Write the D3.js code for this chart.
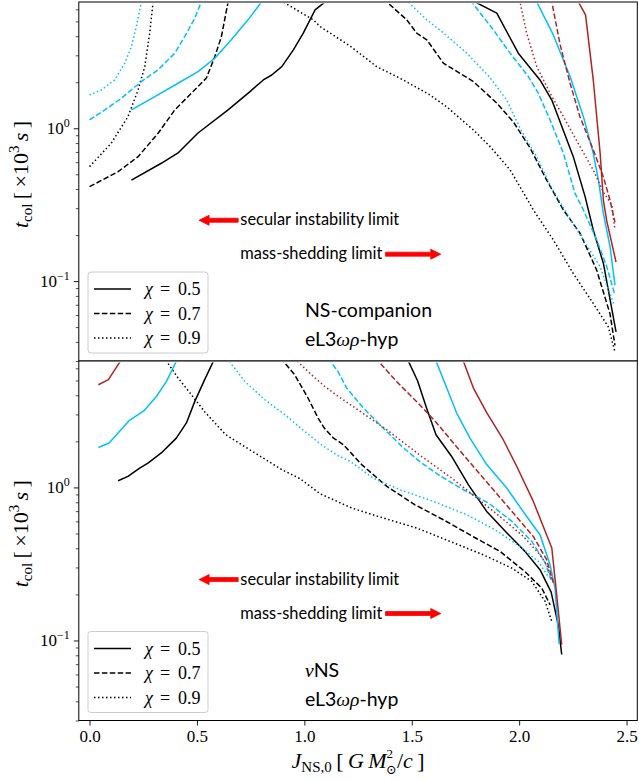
<!DOCTYPE html>
<html>
<head>
<meta charset="utf-8">
<script src="https://cdn.jsdelivr.net/npm/d3@7"></script>
<style>
  body { margin: 0; background: #fff; }
  svg { display: block; }
</style>
</head>
<body>
<svg id="chart" width="639" height="781"></svg>
<script>
// Collapse time t_col (units of 10^3 s) vs initial NS angular momentum J_NS,0.
// Each series is a list of [J, t] pairs; 6.7 marks runs that hit the time cap.

// ---- NS-companion panel ----
const topBlackSolid = [[0.195,0.458],[0.334,0.590],[0.412,0.689],[0.505,0.931],[0.645,1.318],[0.747,1.737],[0.809,2.07],[0.848,2.23],[0.895,2.53],[0.949,3.26],[0.995,4.19],[1.050,5.95],[1.096,6.7],[1.795,6.7],[1.896,5.66],[1.996,3.10],[2.097,2.07],[2.152,1.53],[2.252,0.652],[2.307,0.357],[2.345,0.216],[2.392,0.131],[2.451,0.0466]];
const topBlackDashed = [[0.0,0.415],[0.133,0.520],[0.226,0.652],[0.319,0.927],[0.397,1.318],[0.474,1.695],[0.544,2.13],[0.583,2.94],[0.614,3.98],[0.645,6.7],[1.384,6.7],[1.477,5.12],[1.523,4.19],[1.570,3.79],[1.647,2.67],[1.787,2.02],[1.896,1.46],[1.973,1.10],[2.051,0.743],[2.128,0.458],[2.206,0.292],[2.284,0.205],[2.361,0.118],[2.423,0.061],[2.446,0.038]];
const topBlackDotted = [[0.0,0.561],[0.101,0.798],[0.179,1.191],[0.226,1.782],[0.257,2.53],[0.280,4.19],[0.296,6.7],[0.901,6.7],[1.042,5.12],[1.073,4.63],[1.213,3.45],[1.337,2.53],[1.461,2.07],[1.585,1.65],[1.663,1.38],[1.787,0.975],[1.865,0.758],[1.958,0.534],[2.035,0.348],[2.066,0.292],[2.159,0.186],[2.252,0.112],[2.345,0.0714],[2.415,0.0502],[2.446,0.0344]];
const topCyanSolid = [[0.195,1.318],[0.304,1.611],[0.412,1.97],[0.505,2.35],[0.583,2.87],[0.660,3.79],[0.738,5.12],[0.800,6.7],[2.082,6.7],[2.159,4.08],[2.237,2.18],[2.299,1.191],[2.345,0.686],[2.369,0.458],[2.392,0.277],[2.423,0.168],[2.446,0.094]];
const topCyanDashed = [[0.0,1.133],[0.071,1.318],[0.148,1.571],[0.241,2.02],[0.319,2.41],[0.397,3.10],[0.443,3.98],[0.490,5.25],[0.520,6.7],[1.779,6.7],[1.880,4.40],[1.958,3.10],[2.043,2.18],[2.089,1.695],[2.144,1.133],[2.206,0.686],[2.260,0.375],[2.299,0.292],[2.361,0.186],[2.408,0.124],[2.446,0.081]];
const topCyanDotted = [[0.0,1.65],[0.055,1.78],[0.117,2.07],[0.164,2.67],[0.195,3.42],[0.218,4.63],[0.241,6.7],[1.483,6.7],[1.570,5.12],[1.647,4.21],[1.756,3.10],[1.865,2.14],[1.942,1.53],[2.004,1.00],[2.082,0.649],[2.144,0.425],[2.222,0.277],[2.299,0.186],[2.377,0.124],[2.439,0.0714]];
const topRedSolid = [[0.195,6.7],[2.276,6.7],[2.309,5.52],[2.345,2.07],[2.377,0.686],[2.392,0.339],[2.408,0.247],[2.451,0.133]];
const topRedDashed = [[0.0,6.7],[2.152,6.7],[2.191,3.51],[2.237,1.97],[2.283,1.19],[2.345,0.722],[2.392,0.480],[2.423,0.339],[2.446,0.243]];
const topRedDotted = [[0.0,6.7],[2.004,6.7],[2.035,4.19],[2.082,2.53],[2.144,1.695],[2.206,1.19],[2.283,0.758],[2.345,0.533],[2.392,0.383],[2.431,0.315],[2.446,0.216]];

// ---- νNS panel ----
const botBlackSolid = [[0.133,1.106],[0.179,1.18],[0.235,1.34],[0.272,1.443],[0.334,1.68],[0.404,2.10],[0.451,2.64],[0.490,3.65],[0.536,5.06],[0.577,6.7],[1.484,6.7],[1.527,4.98],[1.570,3.27],[1.613,2.21],[1.685,1.60],[1.764,1.04],[1.849,0.697],[1.942,0.506],[2.027,0.382],[2.097,0.290],[2.149,0.207],[2.183,0.124],[2.198,0.081]];
const botBlackDashed = [[0.0,6.7],[0.901,6.7],[0.955,5.45],[1.017,3.84],[1.064,2.84],[1.092,2.45],[1.134,2.11],[1.182,1.90],[1.267,1.41],[1.384,1.015],[1.515,0.77],[1.647,0.615],[1.795,0.469],[1.911,0.382],[2.027,0.282],[2.105,0.220],[2.144,0.171]];
const botBlackDotted = [[0.0,6.7],[0.358,6.7],[0.412,5.19],[0.474,4.04],[0.536,3.12],[0.634,2.21],[0.758,1.72],[0.896,1.305],[0.980,1.14],[1.073,0.91],[1.221,0.733],[1.368,0.631],[1.523,0.543],[1.678,0.444],[1.833,0.363],[1.966,0.297],[2.059,0.243],[2.121,0.180],[2.152,0.133]];
const botCyanSolid = [[0.041,1.825],[0.091,1.95],[0.184,2.73],[0.254,3.17],[0.312,3.94],[0.358,4.93],[0.405,6.7],[1.613,6.7],[1.663,4.46],[1.709,3.06],[1.771,2.10],[1.849,1.41],[1.942,0.991],[2.035,0.646],[2.097,0.491],[2.144,0.312],[2.167,0.220],[2.186,0.095]];
const botCyanDashed = [[0.0,6.7],[1.120,6.7],[1.157,5.70],[1.197,4.46],[1.275,3.30],[1.366,2.45],[1.460,1.82],[1.539,1.47],[1.624,1.21],[1.740,0.966],[1.857,0.791],[1.966,0.600],[2.059,0.444],[2.121,0.322],[2.148,0.249]];
const botCyanDotted = [[0.0,6.7],[0.649,6.7],[0.723,4.93],[0.816,3.74],[0.909,2.99],[1.002,2.32],[1.079,1.90],[1.157,1.61],[1.213,1.48],[1.321,1.15],[1.445,0.966],[1.601,0.810],[1.756,0.663],[1.888,0.529],[2.004,0.411],[2.089,0.328],[2.139,0.257]];
const botRedSolid = [[0.041,4.69],[0.088,5.06],[0.144,6.7],[1.740,6.7],[1.787,4.46],[1.849,3.08],[1.926,2.05],[1.989,1.37],[2.066,0.810],[2.152,0.402],[2.169,0.238],[2.198,0.094]];
const botRedDashed = [[0.0,6.7],[1.344,6.7],[1.430,4.91],[1.529,3.56],[1.616,2.64],[1.694,1.95],[1.787,1.37],[1.880,0.966],[1.973,0.680],[2.066,0.478],[2.128,0.337],[2.159,0.238]];
const botRedDotted = [[0.0,6.7],[0.966,6.7],[1.033,5.45],[1.095,4.57],[1.157,3.94],[1.228,3.37],[1.384,2.38],[1.547,1.59],[1.686,1.15],[1.803,0.853],[1.919,0.631],[2.020,0.478],[2.097,0.363],[2.128,0.312],[2.153,0.249]];

// axis ranges and ticks
const xDomain = [-0.05, 2.55];
const yDomain = [0.03, 6.7];
const xTicks = [0.0, 0.5, 1.0, 1.5, 2.0, 2.5];
const yMajorTicks = [0.1, 1];
const yMajorLabels = [["10", "\u22121"], ["10", "0"]];
const yMinorTicks = [0.03,0.04,0.05,0.06,0.07,0.08,0.09,0.2,0.3,0.4,0.5,0.6,0.7,0.8,0.9,2,3,4,5,6];
const legendLabels = ["0.5", "0.7", "0.9"];

const COLORS = { black: "#000000", cyan: "#00bfff", red: "#b22222" };
const DASHES = { solid: null, dashed: "5.5,2.4", dotted: "1.5,2.5" };

const panels = [
  {
    top: 2, bottom: 361,
    series: [
      [topBlackSolid, "black", "solid"], [topBlackDashed, "black", "dashed"], [topBlackDotted, "black", "dotted"],
      [topCyanSolid, "cyan", "solid"], [topCyanDashed, "cyan", "dashed"], [topCyanDotted, "cyan", "dotted"],
      [topRedSolid, "red", "solid"], [topRedDashed, "red", "dashed"], [topRedDotted, "red", "dotted"]
    ],
    title: [["NS-companion"], ["eL3", "ωρ", "-hyp"]],
    xAxis: false
  },
  {
    top: 361, bottom: 720.5,
    series: [
      [botBlackSolid, "black", "solid"], [botBlackDashed, "black", "dashed"], [botBlackDotted, "black", "dotted"],
      [botCyanSolid, "cyan", "solid"], [botCyanDashed, "cyan", "dashed"], [botCyanDotted, "cyan", "dotted"],
      [botRedSolid, "red", "solid"], [botRedDashed, "red", "dashed"], [botRedDotted, "red", "dotted"]
    ],
    title: [["", "ν", "NS"], ["eL3", "ωρ", "-hyp"]],
    xAxis: true
  }
];

const svg = d3.select("#chart");
const left = 78.8, right = 637.3;
const x = d3.scaleLinear().domain(xDomain).range([left, right]);

const SERIF = "'Liberation Serif', 'DejaVu Serif', serif";
const SANS = "Lato, 'Open Sans', 'DejaVu Sans', sans-serif";

panels.forEach((p, i) => {
  const y = d3.scaleLog().domain(yDomain).range([p.bottom, p.top]);
  const g = svg.append("g");

  g.append("rect").attr("x", left).attr("y", p.top)
    .attr("width", right - left).attr("height", p.bottom - p.top).attr("fill", "#fff");

  // clip inside the frame so capped runs stay hidden under the top spine
  const inset = 1.5;
  const clipId = "clip" + i;
  svg.append("clipPath").attr("id", clipId).append("rect")
    .attr("x", left).attr("y", p.top + inset).attr("width", right - left).attr("height", p.bottom - p.top - inset);

  const line = d3.line().x(d => x(d[0])).y(d => y(d[1]));
  const lines = g.append("g").attr("clip-path", `url(#${clipId})`);
  p.series.forEach(([data, color, style]) => {
    lines.append("path").datum(data)
      .attr("d", line)
      .attr("fill", "none")
      .attr("stroke", COLORS[color])
      .attr("stroke-width", 1.5)
      .attr("stroke-linejoin", "round")
      .attr("stroke-dasharray", DASHES[style]);
  });

  // y axis: major ticks with 10^n labels, minor ticks without labels
  const yMajor = g.append("g").attr("transform", `translate(${left},0)`)
    .call(d3.axisLeft(y).tickValues(yMajorTicks).tickSize(5).tickPadding(4).tickFormat(() => ""));
  yMajor.select(".domain").remove();
  yMajor.selectAll(".tick line").attr("stroke", "#000").attr("stroke-width", 0.9);
  yMajor.selectAll(".tick text").remove();
  yMajorTicks.forEach((v, k) => {
    const t = g.append("text").attr("x", left - 9).attr("y", y(v) + 6)
      .attr("text-anchor", "end").attr("font-family", SERIF).attr("font-size", 17);
    t.append("tspan").text(yMajorLabels[k][0]);
    t.append("tspan").attr("dy", -7).attr("font-size", 12).text(yMajorLabels[k][1]);
  });
  const yMinor = g.append("g").attr("transform", `translate(${left},0)`)
    .call(d3.axisLeft(y).tickValues(yMinorTicks).tickSize(3).tickFormat(() => ""));
  yMinor.select(".domain").remove();
  yMinor.selectAll(".tick line").attr("stroke", "#000").attr("stroke-width", 0.7);

  if (p.xAxis) {
    const xa = g.append("g").attr("transform", `translate(0,${p.bottom})`)
      .call(d3.axisBottom(x).tickValues(xTicks).tickSize(5).tickPadding(4).tickFormat(d3.format(".1f")));
    xa.select(".domain").remove();
    xa.selectAll(".tick line").attr("stroke", "#000").attr("stroke-width", 0.9);
    xa.selectAll(".tick text").attr("font-family", SERIF).attr("font-size", 17).attr("fill", "#000");
  }

  // frame
  g.append("rect").attr("x", left).attr("y", p.top)
    .attr("width", right - left).attr("height", p.bottom - p.top)
    .attr("fill", "none").attr("stroke", "#000").attr("stroke-width", 1);

  // y label: t_col [ ×10^3 s ]
  const cy = (p.top + p.bottom) / 2 - 7;
  const yl = g.append("text")
    .attr("transform", `translate(28,${cy}) rotate(-90)`)
    .attr("text-anchor", "middle").attr("font-family", SERIF).attr("font-size", 22);
  yl.append("tspan").attr("font-style", "italic").text("t");
  yl.append("tspan").attr("dy", 4).attr("font-size", 15).text("col");
  yl.append("tspan").attr("dy", -4).text("\u2009[\u2009×10");
  yl.append("tspan").attr("dy", -9).attr("font-size", 15).text("3");
  yl.append("tspan").attr("dy", 9).text("\u2009");
  yl.append("tspan").attr("font-style", "italic").text("s");
  yl.append("tspan").text("\u2009]");

  // limit annotations with red arrows
  const ySec = y(0.25), yMass = y(0.15);
  g.append("text").attr("x", x(0.702)).attr("y", ySec + 5)
    .attr("font-family", SANS).attr("font-size", 16.4).attr("fill", "#000")
    .text("secular instability limit");
  g.append("text").attr("x", x(0.702)).attr("y", yMass + 5)
    .attr("font-family", SANS).attr("font-size", 16.4).attr("fill", "#000")
    .text("mass-shedding limit");
  const arrow = (x0, x1, yy) => {
    const dir = Math.sign(x1 - x0), hl = 10, hw = 5, sw = 2;
    const xb = x1 - dir * hl;
    const pts = [[x0, yy - sw], [xb, yy - sw], [xb, yy - hw], [x1, yy], [xb, yy + hw], [xb, yy + sw], [x0, yy + sw]];
    g.append("path").attr("d", "M" + pts.map(q => q.join(",")).join("L") + "Z")
      .attr("fill", "#ff0000").attr("stroke", "#ff0000").attr("stroke-width", 0.8).attr("stroke-linejoin", "round");
  };
  arrow(x(0.692), x(0.51), ySec);
  arrow(x(1.378), x(1.635), yMass);

  // panel title lines
  const tx = x(1.003);
  [y(0.0645), y(0.0417)].forEach((yy, k) => {
    const parts = p.title[k];
    const t = g.append("text").attr("x", tx).attr("y", yy + 7).attr("font-size", 19.5).attr("fill", "#000");
    parts.forEach((s, j) => {
      if (!s) return;
      t.append("tspan").attr("font-family", j === 1 ? SERIF : SANS)
        .attr("font-style", j === 1 ? "italic" : "normal").text(s);
    });
  });

  // legend
  const lx = 88, lw = 120, lh = 81, ly = p.bottom - 8 - lh;
  const lg = g.append("g");
  lg.append("rect").attr("x", lx).attr("y", ly).attr("width", lw).attr("height", lh)
    .attr("rx", 3).attr("fill", "#fff").attr("fill-opacity", 0.8).attr("stroke", "#cccccc").attr("stroke-width", 1);
  ["solid", "dashed", "dotted"].forEach((st, k) => {
    const ey = ly + 17 + k * 24.5;
    lg.append("line").attr("x1", lx + 6).attr("x2", lx + 43).attr("y1", ey).attr("y2", ey)
      .attr("stroke", "#000").attr("stroke-width", 1.5).attr("stroke-dasharray", DASHES[st]);
    const ty = ey + 6;
    lg.append("text").attr("x", lx + 57).attr("y", ty)
      .attr("font-family", SERIF).attr("font-size", 18).attr("font-style", "italic").text("χ");
    lg.append("text").attr("x", lx + 72).attr("y", ty)
      .attr("font-family", SERIF).attr("font-size", 18).text("=");
    lg.append("text").attr("x", lx + 90).attr("y", ty)
      .attr("font-family", SERIF).attr("font-size", 18).text(legendLabels[k]);
  });
});

// x label: J_NS,0 [ G M_⊙^2 / c ]
const xl = svg.append("text").attr("x", (left + right) / 2).attr("y", 768)
  .attr("text-anchor", "middle").attr("font-family", SERIF).attr("font-size", 22);
xl.append("tspan").attr("font-style", "italic").text("J");
xl.append("tspan").attr("dy", 4).attr("font-size", 15).text("NS,0");
xl.append("tspan").attr("dy", -4).text("\u2009[\u2009");
xl.append("tspan").attr("font-style", "italic").text("G\u2009M");
xl.append("tspan").attr("dy", -10).attr("font-size", 13).text("2");
xl.append("tspan").attr("dx", -7).attr("dy", 16).attr("font-size", 13).text("⊙");
xl.append("tspan").attr("dy", -6).text("/");
xl.append("tspan").attr("font-style", "italic").text("c");
xl.append("tspan").text("\u2009]");
</script>
</body>
</html>
